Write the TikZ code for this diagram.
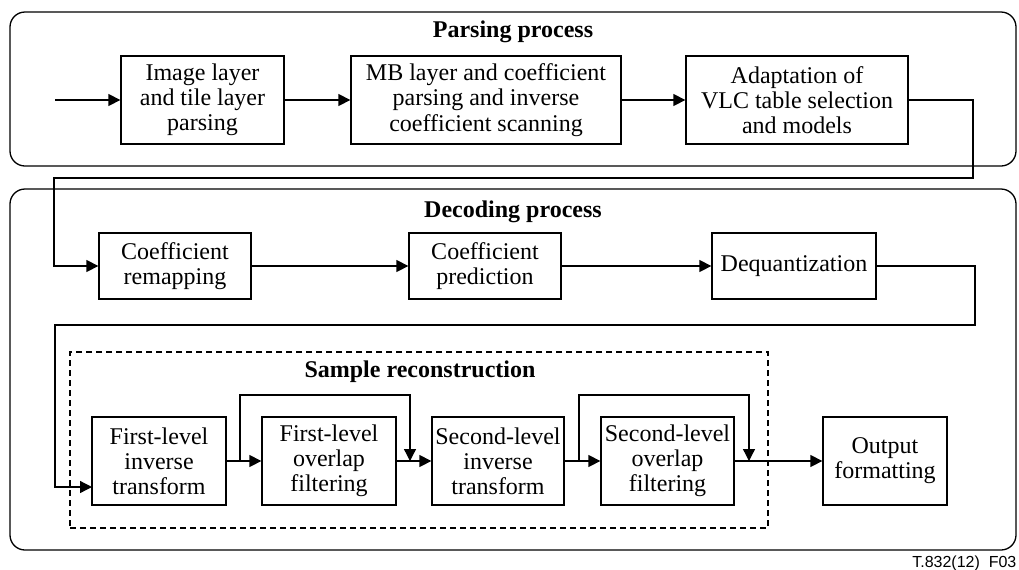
\documentclass[tikz,border=0pt]{standalone}
\usepackage{fontspec}
\setmainfont{Liberation Serif}
\newfontfamily\labelsans{Liberation Sans}
\usetikzlibrary{arrows.meta}

\begin{document}
\begin{tikzpicture}[x=0.5pt,y=-0.5pt,
  line width=0.65pt,
  every node/.style={font=\fontsize{12}{12.6}\selectfont},
  blk/.style={draw,align=center,inner sep=0pt,minimum height=44pt},
  flat/.style={draw,align=center,inner sep=0pt,minimum height=33pt},
  group/.style={draw,rounded corners=7.5pt,inner sep=0pt,minimum width=503pt},
  title/.style={font=\fontsize{12}{12.6}\selectfont\bfseries},
  arr/.style={-{Triangle[length=6pt,width=6pt]}}]
\useasboundingbox (0,0) rectangle (1019,569);

% containers
\node[group,minimum height=77pt] (parse) at (513,89) {};
\node[group,minimum height=180.5pt] (decode) at (513,369.5) {};
\node[draw,dash pattern=on 3pt off 2pt,inner sep=0pt,minimum width=349pt,minimum height=88pt] (sample) at (419,440) {};

\node[title] (tparse) at (513,32) {Parsing process};
\node[title] (tdecode) at (513,212) {Decoding process};
\node[title] (tsample) at (420,372) {Sample reconstruction};

% parsing stage
\node[blk,minimum width=81.5pt] (img) at (202.5,100) {Image layer\\and tile layer\\parsing};
\node[blk,minimum width=135pt] (mb) at (486,100) {MB layer and coefficient\\parsing and inverse\\coefficient scanning};
\node[blk,minimum width=111pt] (vlc) at (797,100) {Adaptation of\\VLC table selection\\and models};

% decoding stage
\node[flat,minimum width=76pt] (remap) at (175,266) {Coefficient\\remapping};
\node[flat,minimum width=76pt] (pred) at (485,266) {Coefficient\\prediction};
\node[flat,minimum width=82pt] (deq) at (794,266) {Dequantization};

% sample reconstruction
\node[blk,minimum width=67pt] (ilt1) at (159,461) {First-level\\inverse\\transform};
\node[blk,minimum width=67pt] (olf1) at (329,461) {First-level\\overlap\\filtering};
\node[blk,minimum width=66pt] (ilt2) at (498,461) {Second-level\\inverse\\transform};
\node[blk,minimum width=66.5pt] (olf2) at (667.5,461) {Second-level\\overlap\\filtering};
\node[blk,minimum width=62pt] (out) at (885,461) {Output\\formatting};

% routing points
\coordinate (in) at (55,100);
\coordinate (p1) at (973,178);
\coordinate (p2) at (54,178);
\coordinate (q1) at (975,325);
\coordinate (q2) at (55,325);
\coordinate (ilt1in) at (92,487);
\coordinate (s1a) at (240,461);
\coordinate (s1b) at (410,395);
\coordinate (s1c) at (410,461);
\coordinate (s2a) at (579,461);
\coordinate (s2b) at (749,395);
\coordinate (s2c) at (749,461);

% connectors
\draw[arr] (in) -- (img);
\draw[arr] (img) -- (mb);
\draw[arr] (mb) -- (vlc);
\draw[arr] (vlc.east) -| (p1) -- (p2) |- (remap.west);
\draw[arr] (remap) -- (pred);
\draw[arr] (pred) -- (deq);
\draw[arr] (deq.east) -| (q1) -- (q2) |- (ilt1in);
\draw[arr] (ilt1) -- (olf1);
\draw[arr] (olf1) -- (ilt2);
\draw[arr] (ilt2) -- (olf2);
\draw[arr] (olf2) -- (out);
\draw[arr] (s1a) |- (s1b) -- (s1c);
\draw[arr] (s2a) |- (s2b) -- (s2c);

\node[anchor=east,inner sep=0pt,font=\fontsize{8}{9}\selectfont\labelsans] (tag) at (1017,563) {T.832(12)\ \ F03};
\end{tikzpicture}
\end{document}
